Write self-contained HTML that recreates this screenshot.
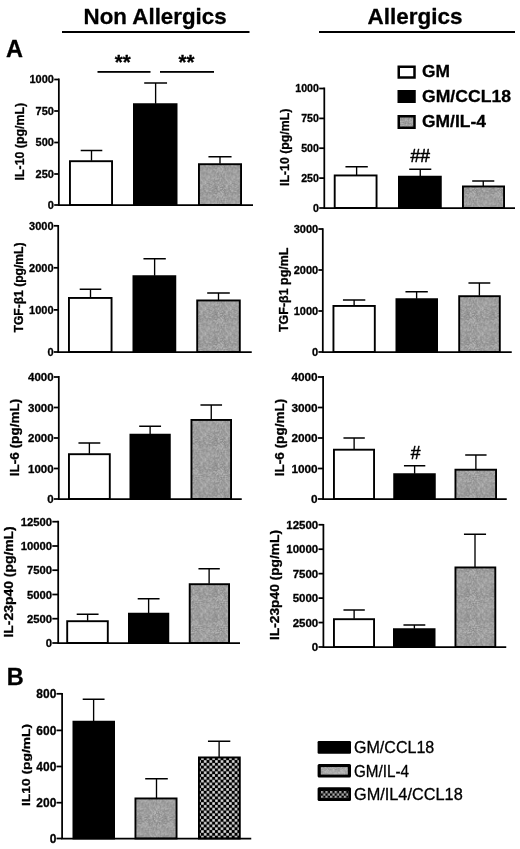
<!DOCTYPE html>
<html><head><meta charset="utf-8"><title>Figure</title>
<style>
html,body{margin:0;padding:0;background:#fff;}
body{width:520px;height:849px;overflow:hidden;font-family:"Liberation Sans",sans-serif;}
svg{display:block;filter:blur(0.35px);}
svg text{font-family:"Liberation Sans",sans-serif;fill:#000;stroke:#000;stroke-width:0.3px;stroke-linejoin:round;}
</style></head><body>
<svg width="520" height="849" viewBox="0 0 520 849">
<defs>
<pattern id="gr" width="25.2" height="25.2" patternUnits="userSpaceOnUse"><rect width="25.2" height="25.2" fill="#9c9c9c"/><rect x="0.0" y="0.0" width="0.7" height="0.7" fill="#7a7a7a"/><rect x="0.7" y="0.0" width="0.7" height="0.7" fill="#c8c8c8"/><rect x="2.1" y="0.0" width="0.7" height="0.7" fill="#c8c8c8"/><rect x="4.2" y="0.0" width="0.7" height="0.7" fill="#c8c8c8"/><rect x="5.6" y="0.0" width="0.7" height="0.7" fill="#c8c8c8"/><rect x="7.0" y="0.0" width="0.7" height="0.7" fill="#c8c8c8"/><rect x="7.7" y="0.0" width="0.7" height="0.7" fill="#c8c8c8"/><rect x="9.8" y="0.0" width="0.7" height="0.7" fill="#c8c8c8"/><rect x="10.5" y="0.0" width="0.7" height="0.7" fill="#7a7a7a"/><rect x="14.7" y="0.0" width="0.7" height="0.7" fill="#c8c8c8"/><rect x="16.1" y="0.0" width="0.7" height="0.7" fill="#7a7a7a"/><rect x="16.8" y="0.0" width="0.7" height="0.7" fill="#c8c8c8"/><rect x="17.5" y="0.0" width="0.7" height="0.7" fill="#c8c8c8"/><rect x="18.2" y="0.0" width="0.7" height="0.7" fill="#7a7a7a"/><rect x="19.6" y="0.0" width="0.7" height="0.7" fill="#7a7a7a"/><rect x="23.1" y="0.0" width="0.7" height="0.7" fill="#c8c8c8"/><rect x="23.8" y="0.0" width="0.7" height="0.7" fill="#c8c8c8"/><rect x="24.5" y="0.0" width="0.7" height="0.7" fill="#7a7a7a"/><rect x="1.4" y="0.7" width="0.7" height="0.7" fill="#7a7a7a"/><rect x="3.5" y="0.7" width="0.7" height="0.7" fill="#7a7a7a"/><rect x="5.6" y="0.7" width="0.7" height="0.7" fill="#7a7a7a"/><rect x="9.1" y="0.7" width="0.7" height="0.7" fill="#7a7a7a"/><rect x="10.5" y="0.7" width="0.7" height="0.7" fill="#c8c8c8"/><rect x="12.6" y="0.7" width="0.7" height="0.7" fill="#c8c8c8"/><rect x="14.0" y="0.7" width="0.7" height="0.7" fill="#c8c8c8"/><rect x="17.5" y="0.7" width="0.7" height="0.7" fill="#7a7a7a"/><rect x="23.8" y="0.7" width="0.7" height="0.7" fill="#c8c8c8"/><rect x="2.1" y="1.4" width="0.7" height="0.7" fill="#7a7a7a"/><rect x="4.2" y="1.4" width="0.7" height="0.7" fill="#c8c8c8"/><rect x="5.6" y="1.4" width="0.7" height="0.7" fill="#c8c8c8"/><rect x="6.3" y="1.4" width="0.7" height="0.7" fill="#c8c8c8"/><rect x="7.0" y="1.4" width="0.7" height="0.7" fill="#c8c8c8"/><rect x="8.4" y="1.4" width="0.7" height="0.7" fill="#c8c8c8"/><rect x="9.1" y="1.4" width="0.7" height="0.7" fill="#7a7a7a"/><rect x="11.2" y="1.4" width="0.7" height="0.7" fill="#c8c8c8"/><rect x="15.4" y="1.4" width="0.7" height="0.7" fill="#7a7a7a"/><rect x="18.9" y="1.4" width="0.7" height="0.7" fill="#c8c8c8"/><rect x="19.6" y="1.4" width="0.7" height="0.7" fill="#c8c8c8"/><rect x="20.3" y="1.4" width="0.7" height="0.7" fill="#7a7a7a"/><rect x="21.0" y="1.4" width="0.7" height="0.7" fill="#7a7a7a"/><rect x="23.1" y="1.4" width="0.7" height="0.7" fill="#7a7a7a"/><rect x="23.8" y="1.4" width="0.7" height="0.7" fill="#c8c8c8"/><rect x="4.9" y="2.1" width="0.7" height="0.7" fill="#c8c8c8"/><rect x="9.8" y="2.1" width="0.7" height="0.7" fill="#c8c8c8"/><rect x="11.2" y="2.1" width="0.7" height="0.7" fill="#c8c8c8"/><rect x="11.9" y="2.1" width="0.7" height="0.7" fill="#c8c8c8"/><rect x="12.6" y="2.1" width="0.7" height="0.7" fill="#7a7a7a"/><rect x="13.3" y="2.1" width="0.7" height="0.7" fill="#c8c8c8"/><rect x="14.7" y="2.1" width="0.7" height="0.7" fill="#c8c8c8"/><rect x="15.4" y="2.1" width="0.7" height="0.7" fill="#c8c8c8"/><rect x="16.1" y="2.1" width="0.7" height="0.7" fill="#c8c8c8"/><rect x="16.8" y="2.1" width="0.7" height="0.7" fill="#c8c8c8"/><rect x="18.2" y="2.1" width="0.7" height="0.7" fill="#c8c8c8"/><rect x="20.3" y="2.1" width="0.7" height="0.7" fill="#c8c8c8"/><rect x="21.0" y="2.1" width="0.7" height="0.7" fill="#7a7a7a"/><rect x="23.1" y="2.1" width="0.7" height="0.7" fill="#c8c8c8"/><rect x="1.4" y="2.8" width="0.7" height="0.7" fill="#c8c8c8"/><rect x="2.1" y="2.8" width="0.7" height="0.7" fill="#c8c8c8"/><rect x="3.5" y="2.8" width="0.7" height="0.7" fill="#7a7a7a"/><rect x="4.9" y="2.8" width="0.7" height="0.7" fill="#c8c8c8"/><rect x="5.6" y="2.8" width="0.7" height="0.7" fill="#c8c8c8"/><rect x="7.7" y="2.8" width="0.7" height="0.7" fill="#c8c8c8"/><rect x="9.1" y="2.8" width="0.7" height="0.7" fill="#c8c8c8"/><rect x="12.6" y="2.8" width="0.7" height="0.7" fill="#7a7a7a"/><rect x="14.0" y="2.8" width="0.7" height="0.7" fill="#c8c8c8"/><rect x="16.8" y="2.8" width="0.7" height="0.7" fill="#7a7a7a"/><rect x="17.5" y="2.8" width="0.7" height="0.7" fill="#7a7a7a"/><rect x="22.4" y="2.8" width="0.7" height="0.7" fill="#7a7a7a"/><rect x="24.5" y="2.8" width="0.7" height="0.7" fill="#c8c8c8"/><rect x="0.0" y="3.5" width="0.7" height="0.7" fill="#c8c8c8"/><rect x="0.7" y="3.5" width="0.7" height="0.7" fill="#7a7a7a"/><rect x="1.4" y="3.5" width="0.7" height="0.7" fill="#7a7a7a"/><rect x="7.0" y="3.5" width="0.7" height="0.7" fill="#7a7a7a"/><rect x="7.7" y="3.5" width="0.7" height="0.7" fill="#7a7a7a"/><rect x="8.4" y="3.5" width="0.7" height="0.7" fill="#7a7a7a"/><rect x="9.1" y="3.5" width="0.7" height="0.7" fill="#7a7a7a"/><rect x="14.0" y="3.5" width="0.7" height="0.7" fill="#c8c8c8"/><rect x="18.2" y="3.5" width="0.7" height="0.7" fill="#c8c8c8"/><rect x="19.6" y="3.5" width="0.7" height="0.7" fill="#7a7a7a"/><rect x="24.5" y="3.5" width="0.7" height="0.7" fill="#c8c8c8"/><rect x="0.0" y="4.2" width="0.7" height="0.7" fill="#c8c8c8"/><rect x="0.7" y="4.2" width="0.7" height="0.7" fill="#c8c8c8"/><rect x="2.8" y="4.2" width="0.7" height="0.7" fill="#c8c8c8"/><rect x="7.0" y="4.2" width="0.7" height="0.7" fill="#c8c8c8"/><rect x="7.7" y="4.2" width="0.7" height="0.7" fill="#c8c8c8"/><rect x="13.3" y="4.2" width="0.7" height="0.7" fill="#7a7a7a"/><rect x="14.0" y="4.2" width="0.7" height="0.7" fill="#7a7a7a"/><rect x="14.7" y="4.2" width="0.7" height="0.7" fill="#7a7a7a"/><rect x="15.4" y="4.2" width="0.7" height="0.7" fill="#7a7a7a"/><rect x="16.8" y="4.2" width="0.7" height="0.7" fill="#7a7a7a"/><rect x="18.2" y="4.2" width="0.7" height="0.7" fill="#c8c8c8"/><rect x="0.7" y="4.9" width="0.7" height="0.7" fill="#c8c8c8"/><rect x="2.1" y="4.9" width="0.7" height="0.7" fill="#7a7a7a"/><rect x="2.8" y="4.9" width="0.7" height="0.7" fill="#c8c8c8"/><rect x="4.2" y="4.9" width="0.7" height="0.7" fill="#c8c8c8"/><rect x="7.0" y="4.9" width="0.7" height="0.7" fill="#7a7a7a"/><rect x="9.8" y="4.9" width="0.7" height="0.7" fill="#c8c8c8"/><rect x="11.2" y="4.9" width="0.7" height="0.7" fill="#7a7a7a"/><rect x="11.9" y="4.9" width="0.7" height="0.7" fill="#7a7a7a"/><rect x="24.5" y="4.9" width="0.7" height="0.7" fill="#7a7a7a"/><rect x="2.1" y="5.6" width="0.7" height="0.7" fill="#c8c8c8"/><rect x="2.8" y="5.6" width="0.7" height="0.7" fill="#c8c8c8"/><rect x="4.2" y="5.6" width="0.7" height="0.7" fill="#c8c8c8"/><rect x="4.9" y="5.6" width="0.7" height="0.7" fill="#7a7a7a"/><rect x="5.6" y="5.6" width="0.7" height="0.7" fill="#c8c8c8"/><rect x="8.4" y="5.6" width="0.7" height="0.7" fill="#c8c8c8"/><rect x="10.5" y="5.6" width="0.7" height="0.7" fill="#c8c8c8"/><rect x="12.6" y="5.6" width="0.7" height="0.7" fill="#7a7a7a"/><rect x="16.8" y="5.6" width="0.7" height="0.7" fill="#c8c8c8"/><rect x="18.9" y="5.6" width="0.7" height="0.7" fill="#7a7a7a"/><rect x="19.6" y="5.6" width="0.7" height="0.7" fill="#7a7a7a"/><rect x="20.3" y="5.6" width="0.7" height="0.7" fill="#7a7a7a"/><rect x="21.7" y="5.6" width="0.7" height="0.7" fill="#c8c8c8"/><rect x="23.8" y="5.6" width="0.7" height="0.7" fill="#c8c8c8"/><rect x="24.5" y="5.6" width="0.7" height="0.7" fill="#7a7a7a"/><rect x="1.4" y="6.3" width="0.7" height="0.7" fill="#c8c8c8"/><rect x="4.2" y="6.3" width="0.7" height="0.7" fill="#c8c8c8"/><rect x="4.9" y="6.3" width="0.7" height="0.7" fill="#7a7a7a"/><rect x="5.6" y="6.3" width="0.7" height="0.7" fill="#c8c8c8"/><rect x="7.0" y="6.3" width="0.7" height="0.7" fill="#7a7a7a"/><rect x="7.7" y="6.3" width="0.7" height="0.7" fill="#c8c8c8"/><rect x="10.5" y="6.3" width="0.7" height="0.7" fill="#7a7a7a"/><rect x="11.2" y="6.3" width="0.7" height="0.7" fill="#c8c8c8"/><rect x="14.0" y="6.3" width="0.7" height="0.7" fill="#c8c8c8"/><rect x="14.7" y="6.3" width="0.7" height="0.7" fill="#c8c8c8"/><rect x="16.8" y="6.3" width="0.7" height="0.7" fill="#c8c8c8"/><rect x="19.6" y="6.3" width="0.7" height="0.7" fill="#c8c8c8"/><rect x="21.0" y="6.3" width="0.7" height="0.7" fill="#c8c8c8"/><rect x="23.1" y="6.3" width="0.7" height="0.7" fill="#7a7a7a"/><rect x="0.0" y="7.0" width="0.7" height="0.7" fill="#7a7a7a"/><rect x="0.7" y="7.0" width="0.7" height="0.7" fill="#c8c8c8"/><rect x="2.1" y="7.0" width="0.7" height="0.7" fill="#7a7a7a"/><rect x="2.8" y="7.0" width="0.7" height="0.7" fill="#c8c8c8"/><rect x="3.5" y="7.0" width="0.7" height="0.7" fill="#c8c8c8"/><rect x="4.2" y="7.0" width="0.7" height="0.7" fill="#c8c8c8"/><rect x="4.9" y="7.0" width="0.7" height="0.7" fill="#7a7a7a"/><rect x="5.6" y="7.0" width="0.7" height="0.7" fill="#7a7a7a"/><rect x="6.3" y="7.0" width="0.7" height="0.7" fill="#7a7a7a"/><rect x="7.7" y="7.0" width="0.7" height="0.7" fill="#7a7a7a"/><rect x="9.1" y="7.0" width="0.7" height="0.7" fill="#c8c8c8"/><rect x="10.5" y="7.0" width="0.7" height="0.7" fill="#c8c8c8"/><rect x="11.2" y="7.0" width="0.7" height="0.7" fill="#7a7a7a"/><rect x="11.9" y="7.0" width="0.7" height="0.7" fill="#c8c8c8"/><rect x="14.0" y="7.0" width="0.7" height="0.7" fill="#7a7a7a"/><rect x="16.1" y="7.0" width="0.7" height="0.7" fill="#c8c8c8"/><rect x="1.4" y="7.7" width="0.7" height="0.7" fill="#c8c8c8"/><rect x="2.1" y="7.7" width="0.7" height="0.7" fill="#c8c8c8"/><rect x="2.8" y="7.7" width="0.7" height="0.7" fill="#c8c8c8"/><rect x="4.2" y="7.7" width="0.7" height="0.7" fill="#7a7a7a"/><rect x="4.9" y="7.7" width="0.7" height="0.7" fill="#c8c8c8"/><rect x="5.6" y="7.7" width="0.7" height="0.7" fill="#c8c8c8"/><rect x="8.4" y="7.7" width="0.7" height="0.7" fill="#7a7a7a"/><rect x="9.1" y="7.7" width="0.7" height="0.7" fill="#7a7a7a"/><rect x="9.8" y="7.7" width="0.7" height="0.7" fill="#7a7a7a"/><rect x="11.2" y="7.7" width="0.7" height="0.7" fill="#c8c8c8"/><rect x="12.6" y="7.7" width="0.7" height="0.7" fill="#7a7a7a"/><rect x="15.4" y="7.7" width="0.7" height="0.7" fill="#7a7a7a"/><rect x="16.8" y="7.7" width="0.7" height="0.7" fill="#7a7a7a"/><rect x="18.2" y="7.7" width="0.7" height="0.7" fill="#c8c8c8"/><rect x="21.0" y="7.7" width="0.7" height="0.7" fill="#7a7a7a"/><rect x="22.4" y="7.7" width="0.7" height="0.7" fill="#c8c8c8"/><rect x="23.1" y="7.7" width="0.7" height="0.7" fill="#7a7a7a"/><rect x="23.8" y="7.7" width="0.7" height="0.7" fill="#c8c8c8"/><rect x="0.0" y="8.4" width="0.7" height="0.7" fill="#c8c8c8"/><rect x="0.7" y="8.4" width="0.7" height="0.7" fill="#c8c8c8"/><rect x="1.4" y="8.4" width="0.7" height="0.7" fill="#7a7a7a"/><rect x="2.1" y="8.4" width="0.7" height="0.7" fill="#7a7a7a"/><rect x="7.7" y="8.4" width="0.7" height="0.7" fill="#7a7a7a"/><rect x="9.1" y="8.4" width="0.7" height="0.7" fill="#c8c8c8"/><rect x="11.2" y="8.4" width="0.7" height="0.7" fill="#c8c8c8"/><rect x="15.4" y="8.4" width="0.7" height="0.7" fill="#c8c8c8"/><rect x="22.4" y="8.4" width="0.7" height="0.7" fill="#7a7a7a"/><rect x="23.1" y="8.4" width="0.7" height="0.7" fill="#c8c8c8"/><rect x="23.8" y="8.4" width="0.7" height="0.7" fill="#c8c8c8"/><rect x="0.0" y="9.1" width="0.7" height="0.7" fill="#c8c8c8"/><rect x="4.9" y="9.1" width="0.7" height="0.7" fill="#c8c8c8"/><rect x="9.1" y="9.1" width="0.7" height="0.7" fill="#c8c8c8"/><rect x="10.5" y="9.1" width="0.7" height="0.7" fill="#7a7a7a"/><rect x="11.2" y="9.1" width="0.7" height="0.7" fill="#c8c8c8"/><rect x="11.9" y="9.1" width="0.7" height="0.7" fill="#7a7a7a"/><rect x="13.3" y="9.1" width="0.7" height="0.7" fill="#7a7a7a"/><rect x="20.3" y="9.1" width="0.7" height="0.7" fill="#c8c8c8"/><rect x="21.0" y="9.1" width="0.7" height="0.7" fill="#c8c8c8"/><rect x="21.7" y="9.1" width="0.7" height="0.7" fill="#7a7a7a"/><rect x="23.1" y="9.1" width="0.7" height="0.7" fill="#7a7a7a"/><rect x="24.5" y="9.1" width="0.7" height="0.7" fill="#c8c8c8"/><rect x="0.0" y="9.8" width="0.7" height="0.7" fill="#c8c8c8"/><rect x="0.7" y="9.8" width="0.7" height="0.7" fill="#7a7a7a"/><rect x="3.5" y="9.8" width="0.7" height="0.7" fill="#7a7a7a"/><rect x="6.3" y="9.8" width="0.7" height="0.7" fill="#c8c8c8"/><rect x="7.7" y="9.8" width="0.7" height="0.7" fill="#7a7a7a"/><rect x="9.8" y="9.8" width="0.7" height="0.7" fill="#c8c8c8"/><rect x="13.3" y="9.8" width="0.7" height="0.7" fill="#7a7a7a"/><rect x="14.0" y="9.8" width="0.7" height="0.7" fill="#7a7a7a"/><rect x="15.4" y="9.8" width="0.7" height="0.7" fill="#7a7a7a"/><rect x="16.8" y="9.8" width="0.7" height="0.7" fill="#c8c8c8"/><rect x="18.9" y="9.8" width="0.7" height="0.7" fill="#c8c8c8"/><rect x="22.4" y="9.8" width="0.7" height="0.7" fill="#7a7a7a"/><rect x="24.5" y="9.8" width="0.7" height="0.7" fill="#c8c8c8"/><rect x="0.0" y="10.5" width="0.7" height="0.7" fill="#c8c8c8"/><rect x="2.1" y="10.5" width="0.7" height="0.7" fill="#7a7a7a"/><rect x="2.8" y="10.5" width="0.7" height="0.7" fill="#c8c8c8"/><rect x="4.2" y="10.5" width="0.7" height="0.7" fill="#7a7a7a"/><rect x="5.6" y="10.5" width="0.7" height="0.7" fill="#c8c8c8"/><rect x="7.7" y="10.5" width="0.7" height="0.7" fill="#c8c8c8"/><rect x="10.5" y="10.5" width="0.7" height="0.7" fill="#7a7a7a"/><rect x="15.4" y="10.5" width="0.7" height="0.7" fill="#7a7a7a"/><rect x="16.1" y="10.5" width="0.7" height="0.7" fill="#c8c8c8"/><rect x="16.8" y="10.5" width="0.7" height="0.7" fill="#c8c8c8"/><rect x="18.2" y="10.5" width="0.7" height="0.7" fill="#7a7a7a"/><rect x="19.6" y="10.5" width="0.7" height="0.7" fill="#7a7a7a"/><rect x="20.3" y="10.5" width="0.7" height="0.7" fill="#7a7a7a"/><rect x="21.7" y="10.5" width="0.7" height="0.7" fill="#7a7a7a"/><rect x="3.5" y="11.2" width="0.7" height="0.7" fill="#c8c8c8"/><rect x="7.0" y="11.2" width="0.7" height="0.7" fill="#7a7a7a"/><rect x="7.7" y="11.2" width="0.7" height="0.7" fill="#c8c8c8"/><rect x="9.1" y="11.2" width="0.7" height="0.7" fill="#c8c8c8"/><rect x="11.2" y="11.2" width="0.7" height="0.7" fill="#7a7a7a"/><rect x="13.3" y="11.2" width="0.7" height="0.7" fill="#7a7a7a"/><rect x="14.7" y="11.2" width="0.7" height="0.7" fill="#7a7a7a"/><rect x="16.8" y="11.2" width="0.7" height="0.7" fill="#c8c8c8"/><rect x="17.5" y="11.2" width="0.7" height="0.7" fill="#c8c8c8"/><rect x="18.2" y="11.2" width="0.7" height="0.7" fill="#7a7a7a"/><rect x="20.3" y="11.2" width="0.7" height="0.7" fill="#7a7a7a"/><rect x="23.1" y="11.2" width="0.7" height="0.7" fill="#c8c8c8"/><rect x="23.8" y="11.2" width="0.7" height="0.7" fill="#7a7a7a"/><rect x="24.5" y="11.2" width="0.7" height="0.7" fill="#c8c8c8"/><rect x="0.7" y="11.9" width="0.7" height="0.7" fill="#c8c8c8"/><rect x="1.4" y="11.9" width="0.7" height="0.7" fill="#7a7a7a"/><rect x="2.1" y="11.9" width="0.7" height="0.7" fill="#7a7a7a"/><rect x="7.7" y="11.9" width="0.7" height="0.7" fill="#7a7a7a"/><rect x="8.4" y="11.9" width="0.7" height="0.7" fill="#c8c8c8"/><rect x="9.1" y="11.9" width="0.7" height="0.7" fill="#7a7a7a"/><rect x="10.5" y="11.9" width="0.7" height="0.7" fill="#c8c8c8"/><rect x="13.3" y="11.9" width="0.7" height="0.7" fill="#7a7a7a"/><rect x="14.0" y="11.9" width="0.7" height="0.7" fill="#7a7a7a"/><rect x="14.7" y="11.9" width="0.7" height="0.7" fill="#7a7a7a"/><rect x="18.9" y="11.9" width="0.7" height="0.7" fill="#c8c8c8"/><rect x="19.6" y="11.9" width="0.7" height="0.7" fill="#c8c8c8"/><rect x="23.1" y="11.9" width="0.7" height="0.7" fill="#c8c8c8"/><rect x="2.1" y="12.6" width="0.7" height="0.7" fill="#7a7a7a"/><rect x="2.8" y="12.6" width="0.7" height="0.7" fill="#c8c8c8"/><rect x="3.5" y="12.6" width="0.7" height="0.7" fill="#c8c8c8"/><rect x="9.8" y="12.6" width="0.7" height="0.7" fill="#c8c8c8"/><rect x="11.2" y="12.6" width="0.7" height="0.7" fill="#7a7a7a"/><rect x="13.3" y="12.6" width="0.7" height="0.7" fill="#7a7a7a"/><rect x="14.0" y="12.6" width="0.7" height="0.7" fill="#c8c8c8"/><rect x="14.7" y="12.6" width="0.7" height="0.7" fill="#7a7a7a"/><rect x="16.8" y="12.6" width="0.7" height="0.7" fill="#c8c8c8"/><rect x="17.5" y="12.6" width="0.7" height="0.7" fill="#c8c8c8"/><rect x="20.3" y="12.6" width="0.7" height="0.7" fill="#7a7a7a"/><rect x="21.7" y="12.6" width="0.7" height="0.7" fill="#c8c8c8"/><rect x="22.4" y="12.6" width="0.7" height="0.7" fill="#7a7a7a"/><rect x="1.4" y="13.3" width="0.7" height="0.7" fill="#7a7a7a"/><rect x="2.1" y="13.3" width="0.7" height="0.7" fill="#7a7a7a"/><rect x="4.2" y="13.3" width="0.7" height="0.7" fill="#7a7a7a"/><rect x="4.9" y="13.3" width="0.7" height="0.7" fill="#c8c8c8"/><rect x="7.7" y="13.3" width="0.7" height="0.7" fill="#7a7a7a"/><rect x="9.8" y="13.3" width="0.7" height="0.7" fill="#7a7a7a"/><rect x="10.5" y="13.3" width="0.7" height="0.7" fill="#c8c8c8"/><rect x="11.2" y="13.3" width="0.7" height="0.7" fill="#7a7a7a"/><rect x="13.3" y="13.3" width="0.7" height="0.7" fill="#7a7a7a"/><rect x="16.1" y="13.3" width="0.7" height="0.7" fill="#7a7a7a"/><rect x="17.5" y="13.3" width="0.7" height="0.7" fill="#7a7a7a"/><rect x="18.9" y="13.3" width="0.7" height="0.7" fill="#7a7a7a"/><rect x="19.6" y="13.3" width="0.7" height="0.7" fill="#7a7a7a"/><rect x="21.0" y="13.3" width="0.7" height="0.7" fill="#7a7a7a"/><rect x="23.1" y="13.3" width="0.7" height="0.7" fill="#7a7a7a"/><rect x="23.8" y="13.3" width="0.7" height="0.7" fill="#7a7a7a"/><rect x="1.4" y="14.0" width="0.7" height="0.7" fill="#c8c8c8"/><rect x="2.8" y="14.0" width="0.7" height="0.7" fill="#7a7a7a"/><rect x="4.2" y="14.0" width="0.7" height="0.7" fill="#c8c8c8"/><rect x="4.9" y="14.0" width="0.7" height="0.7" fill="#c8c8c8"/><rect x="5.6" y="14.0" width="0.7" height="0.7" fill="#c8c8c8"/><rect x="10.5" y="14.0" width="0.7" height="0.7" fill="#7a7a7a"/><rect x="11.2" y="14.0" width="0.7" height="0.7" fill="#7a7a7a"/><rect x="13.3" y="14.0" width="0.7" height="0.7" fill="#c8c8c8"/><rect x="16.1" y="14.0" width="0.7" height="0.7" fill="#7a7a7a"/><rect x="16.8" y="14.0" width="0.7" height="0.7" fill="#c8c8c8"/><rect x="17.5" y="14.0" width="0.7" height="0.7" fill="#c8c8c8"/><rect x="18.2" y="14.0" width="0.7" height="0.7" fill="#7a7a7a"/><rect x="20.3" y="14.0" width="0.7" height="0.7" fill="#c8c8c8"/><rect x="21.7" y="14.0" width="0.7" height="0.7" fill="#7a7a7a"/><rect x="0.0" y="14.7" width="0.7" height="0.7" fill="#c8c8c8"/><rect x="2.8" y="14.7" width="0.7" height="0.7" fill="#7a7a7a"/><rect x="4.9" y="14.7" width="0.7" height="0.7" fill="#c8c8c8"/><rect x="7.7" y="14.7" width="0.7" height="0.7" fill="#c8c8c8"/><rect x="8.4" y="14.7" width="0.7" height="0.7" fill="#c8c8c8"/><rect x="9.1" y="14.7" width="0.7" height="0.7" fill="#c8c8c8"/><rect x="10.5" y="14.7" width="0.7" height="0.7" fill="#7a7a7a"/><rect x="12.6" y="14.7" width="0.7" height="0.7" fill="#7a7a7a"/><rect x="13.3" y="14.7" width="0.7" height="0.7" fill="#7a7a7a"/><rect x="15.4" y="14.7" width="0.7" height="0.7" fill="#7a7a7a"/><rect x="16.8" y="14.7" width="0.7" height="0.7" fill="#7a7a7a"/><rect x="17.5" y="14.7" width="0.7" height="0.7" fill="#7a7a7a"/><rect x="18.2" y="14.7" width="0.7" height="0.7" fill="#c8c8c8"/><rect x="21.7" y="14.7" width="0.7" height="0.7" fill="#c8c8c8"/><rect x="22.4" y="14.7" width="0.7" height="0.7" fill="#7a7a7a"/><rect x="0.7" y="15.4" width="0.7" height="0.7" fill="#7a7a7a"/><rect x="3.5" y="15.4" width="0.7" height="0.7" fill="#7a7a7a"/><rect x="7.7" y="15.4" width="0.7" height="0.7" fill="#7a7a7a"/><rect x="8.4" y="15.4" width="0.7" height="0.7" fill="#7a7a7a"/><rect x="10.5" y="15.4" width="0.7" height="0.7" fill="#c8c8c8"/><rect x="11.2" y="15.4" width="0.7" height="0.7" fill="#7a7a7a"/><rect x="12.6" y="15.4" width="0.7" height="0.7" fill="#7a7a7a"/><rect x="13.3" y="15.4" width="0.7" height="0.7" fill="#c8c8c8"/><rect x="14.0" y="15.4" width="0.7" height="0.7" fill="#c8c8c8"/><rect x="15.4" y="15.4" width="0.7" height="0.7" fill="#7a7a7a"/><rect x="18.2" y="15.4" width="0.7" height="0.7" fill="#7a7a7a"/><rect x="18.9" y="15.4" width="0.7" height="0.7" fill="#c8c8c8"/><rect x="19.6" y="15.4" width="0.7" height="0.7" fill="#c8c8c8"/><rect x="22.4" y="15.4" width="0.7" height="0.7" fill="#7a7a7a"/><rect x="2.1" y="16.1" width="0.7" height="0.7" fill="#c8c8c8"/><rect x="3.5" y="16.1" width="0.7" height="0.7" fill="#7a7a7a"/><rect x="6.3" y="16.1" width="0.7" height="0.7" fill="#7a7a7a"/><rect x="7.0" y="16.1" width="0.7" height="0.7" fill="#7a7a7a"/><rect x="7.7" y="16.1" width="0.7" height="0.7" fill="#7a7a7a"/><rect x="8.4" y="16.1" width="0.7" height="0.7" fill="#c8c8c8"/><rect x="10.5" y="16.1" width="0.7" height="0.7" fill="#7a7a7a"/><rect x="13.3" y="16.1" width="0.7" height="0.7" fill="#7a7a7a"/><rect x="16.1" y="16.1" width="0.7" height="0.7" fill="#c8c8c8"/><rect x="19.6" y="16.1" width="0.7" height="0.7" fill="#c8c8c8"/><rect x="20.3" y="16.1" width="0.7" height="0.7" fill="#7a7a7a"/><rect x="21.0" y="16.1" width="0.7" height="0.7" fill="#c8c8c8"/><rect x="21.7" y="16.1" width="0.7" height="0.7" fill="#7a7a7a"/><rect x="1.4" y="16.8" width="0.7" height="0.7" fill="#7a7a7a"/><rect x="3.5" y="16.8" width="0.7" height="0.7" fill="#c8c8c8"/><rect x="5.6" y="16.8" width="0.7" height="0.7" fill="#7a7a7a"/><rect x="7.0" y="16.8" width="0.7" height="0.7" fill="#c8c8c8"/><rect x="7.7" y="16.8" width="0.7" height="0.7" fill="#7a7a7a"/><rect x="8.4" y="16.8" width="0.7" height="0.7" fill="#7a7a7a"/><rect x="10.5" y="16.8" width="0.7" height="0.7" fill="#7a7a7a"/><rect x="11.2" y="16.8" width="0.7" height="0.7" fill="#c8c8c8"/><rect x="11.9" y="16.8" width="0.7" height="0.7" fill="#7a7a7a"/><rect x="13.3" y="16.8" width="0.7" height="0.7" fill="#7a7a7a"/><rect x="14.0" y="16.8" width="0.7" height="0.7" fill="#7a7a7a"/><rect x="14.7" y="16.8" width="0.7" height="0.7" fill="#7a7a7a"/><rect x="16.8" y="16.8" width="0.7" height="0.7" fill="#c8c8c8"/><rect x="17.5" y="16.8" width="0.7" height="0.7" fill="#c8c8c8"/><rect x="20.3" y="16.8" width="0.7" height="0.7" fill="#c8c8c8"/><rect x="21.0" y="16.8" width="0.7" height="0.7" fill="#c8c8c8"/><rect x="23.1" y="16.8" width="0.7" height="0.7" fill="#7a7a7a"/><rect x="23.8" y="16.8" width="0.7" height="0.7" fill="#7a7a7a"/><rect x="0.0" y="17.5" width="0.7" height="0.7" fill="#7a7a7a"/><rect x="4.9" y="17.5" width="0.7" height="0.7" fill="#7a7a7a"/><rect x="6.3" y="17.5" width="0.7" height="0.7" fill="#7a7a7a"/><rect x="7.0" y="17.5" width="0.7" height="0.7" fill="#c8c8c8"/><rect x="11.9" y="17.5" width="0.7" height="0.7" fill="#c8c8c8"/><rect x="12.6" y="17.5" width="0.7" height="0.7" fill="#c8c8c8"/><rect x="15.4" y="17.5" width="0.7" height="0.7" fill="#c8c8c8"/><rect x="18.2" y="17.5" width="0.7" height="0.7" fill="#c8c8c8"/><rect x="18.9" y="17.5" width="0.7" height="0.7" fill="#7a7a7a"/><rect x="21.0" y="17.5" width="0.7" height="0.7" fill="#c8c8c8"/><rect x="23.8" y="17.5" width="0.7" height="0.7" fill="#7a7a7a"/><rect x="24.5" y="17.5" width="0.7" height="0.7" fill="#c8c8c8"/><rect x="2.1" y="18.2" width="0.7" height="0.7" fill="#c8c8c8"/><rect x="6.3" y="18.2" width="0.7" height="0.7" fill="#c8c8c8"/><rect x="7.7" y="18.2" width="0.7" height="0.7" fill="#7a7a7a"/><rect x="10.5" y="18.2" width="0.7" height="0.7" fill="#7a7a7a"/><rect x="11.2" y="18.2" width="0.7" height="0.7" fill="#7a7a7a"/><rect x="14.0" y="18.2" width="0.7" height="0.7" fill="#c8c8c8"/><rect x="14.7" y="18.2" width="0.7" height="0.7" fill="#7a7a7a"/><rect x="16.8" y="18.2" width="0.7" height="0.7" fill="#c8c8c8"/><rect x="18.9" y="18.2" width="0.7" height="0.7" fill="#c8c8c8"/><rect x="20.3" y="18.2" width="0.7" height="0.7" fill="#c8c8c8"/><rect x="23.1" y="18.2" width="0.7" height="0.7" fill="#7a7a7a"/><rect x="2.8" y="18.9" width="0.7" height="0.7" fill="#c8c8c8"/><rect x="4.9" y="18.9" width="0.7" height="0.7" fill="#7a7a7a"/><rect x="7.7" y="18.9" width="0.7" height="0.7" fill="#c8c8c8"/><rect x="9.1" y="18.9" width="0.7" height="0.7" fill="#c8c8c8"/><rect x="9.8" y="18.9" width="0.7" height="0.7" fill="#c8c8c8"/><rect x="11.2" y="18.9" width="0.7" height="0.7" fill="#c8c8c8"/><rect x="13.3" y="18.9" width="0.7" height="0.7" fill="#c8c8c8"/><rect x="14.7" y="18.9" width="0.7" height="0.7" fill="#c8c8c8"/><rect x="17.5" y="18.9" width="0.7" height="0.7" fill="#c8c8c8"/><rect x="20.3" y="18.9" width="0.7" height="0.7" fill="#c8c8c8"/><rect x="23.8" y="18.9" width="0.7" height="0.7" fill="#7a7a7a"/><rect x="2.1" y="19.6" width="0.7" height="0.7" fill="#c8c8c8"/><rect x="4.2" y="19.6" width="0.7" height="0.7" fill="#c8c8c8"/><rect x="6.3" y="19.6" width="0.7" height="0.7" fill="#c8c8c8"/><rect x="7.7" y="19.6" width="0.7" height="0.7" fill="#7a7a7a"/><rect x="9.1" y="19.6" width="0.7" height="0.7" fill="#c8c8c8"/><rect x="11.2" y="19.6" width="0.7" height="0.7" fill="#7a7a7a"/><rect x="11.9" y="19.6" width="0.7" height="0.7" fill="#7a7a7a"/><rect x="13.3" y="19.6" width="0.7" height="0.7" fill="#7a7a7a"/><rect x="14.0" y="19.6" width="0.7" height="0.7" fill="#c8c8c8"/><rect x="14.7" y="19.6" width="0.7" height="0.7" fill="#7a7a7a"/><rect x="15.4" y="19.6" width="0.7" height="0.7" fill="#c8c8c8"/><rect x="18.2" y="19.6" width="0.7" height="0.7" fill="#c8c8c8"/><rect x="19.6" y="19.6" width="0.7" height="0.7" fill="#c8c8c8"/><rect x="0.0" y="20.3" width="0.7" height="0.7" fill="#c8c8c8"/><rect x="3.5" y="20.3" width="0.7" height="0.7" fill="#7a7a7a"/><rect x="7.7" y="20.3" width="0.7" height="0.7" fill="#c8c8c8"/><rect x="9.1" y="20.3" width="0.7" height="0.7" fill="#c8c8c8"/><rect x="10.5" y="20.3" width="0.7" height="0.7" fill="#7a7a7a"/><rect x="14.0" y="20.3" width="0.7" height="0.7" fill="#7a7a7a"/><rect x="14.7" y="20.3" width="0.7" height="0.7" fill="#c8c8c8"/><rect x="15.4" y="20.3" width="0.7" height="0.7" fill="#c8c8c8"/><rect x="16.1" y="20.3" width="0.7" height="0.7" fill="#c8c8c8"/><rect x="19.6" y="20.3" width="0.7" height="0.7" fill="#c8c8c8"/><rect x="20.3" y="20.3" width="0.7" height="0.7" fill="#7a7a7a"/><rect x="21.7" y="20.3" width="0.7" height="0.7" fill="#c8c8c8"/><rect x="22.4" y="20.3" width="0.7" height="0.7" fill="#c8c8c8"/><rect x="23.8" y="20.3" width="0.7" height="0.7" fill="#c8c8c8"/><rect x="0.0" y="21.0" width="0.7" height="0.7" fill="#7a7a7a"/><rect x="2.1" y="21.0" width="0.7" height="0.7" fill="#7a7a7a"/><rect x="4.2" y="21.0" width="0.7" height="0.7" fill="#c8c8c8"/><rect x="5.6" y="21.0" width="0.7" height="0.7" fill="#7a7a7a"/><rect x="6.3" y="21.0" width="0.7" height="0.7" fill="#c8c8c8"/><rect x="7.0" y="21.0" width="0.7" height="0.7" fill="#c8c8c8"/><rect x="10.5" y="21.0" width="0.7" height="0.7" fill="#7a7a7a"/><rect x="11.2" y="21.0" width="0.7" height="0.7" fill="#c8c8c8"/><rect x="16.8" y="21.0" width="0.7" height="0.7" fill="#7a7a7a"/><rect x="18.2" y="21.0" width="0.7" height="0.7" fill="#c8c8c8"/><rect x="20.3" y="21.0" width="0.7" height="0.7" fill="#7a7a7a"/><rect x="21.0" y="21.0" width="0.7" height="0.7" fill="#c8c8c8"/><rect x="22.4" y="21.0" width="0.7" height="0.7" fill="#c8c8c8"/><rect x="24.5" y="21.0" width="0.7" height="0.7" fill="#c8c8c8"/><rect x="0.0" y="21.7" width="0.7" height="0.7" fill="#7a7a7a"/><rect x="3.5" y="21.7" width="0.7" height="0.7" fill="#c8c8c8"/><rect x="4.2" y="21.7" width="0.7" height="0.7" fill="#7a7a7a"/><rect x="4.9" y="21.7" width="0.7" height="0.7" fill="#7a7a7a"/><rect x="5.6" y="21.7" width="0.7" height="0.7" fill="#c8c8c8"/><rect x="8.4" y="21.7" width="0.7" height="0.7" fill="#c8c8c8"/><rect x="12.6" y="21.7" width="0.7" height="0.7" fill="#7a7a7a"/><rect x="13.3" y="21.7" width="0.7" height="0.7" fill="#c8c8c8"/><rect x="14.0" y="21.7" width="0.7" height="0.7" fill="#7a7a7a"/><rect x="14.7" y="21.7" width="0.7" height="0.7" fill="#c8c8c8"/><rect x="15.4" y="21.7" width="0.7" height="0.7" fill="#7a7a7a"/><rect x="18.9" y="21.7" width="0.7" height="0.7" fill="#7a7a7a"/><rect x="22.4" y="21.7" width="0.7" height="0.7" fill="#7a7a7a"/><rect x="24.5" y="21.7" width="0.7" height="0.7" fill="#7a7a7a"/><rect x="0.7" y="22.4" width="0.7" height="0.7" fill="#c8c8c8"/><rect x="1.4" y="22.4" width="0.7" height="0.7" fill="#7a7a7a"/><rect x="2.1" y="22.4" width="0.7" height="0.7" fill="#7a7a7a"/><rect x="4.9" y="22.4" width="0.7" height="0.7" fill="#7a7a7a"/><rect x="6.3" y="22.4" width="0.7" height="0.7" fill="#7a7a7a"/><rect x="7.0" y="22.4" width="0.7" height="0.7" fill="#7a7a7a"/><rect x="16.1" y="22.4" width="0.7" height="0.7" fill="#7a7a7a"/><rect x="16.8" y="22.4" width="0.7" height="0.7" fill="#7a7a7a"/><rect x="18.2" y="22.4" width="0.7" height="0.7" fill="#c8c8c8"/><rect x="19.6" y="22.4" width="0.7" height="0.7" fill="#c8c8c8"/><rect x="20.3" y="22.4" width="0.7" height="0.7" fill="#c8c8c8"/><rect x="21.0" y="22.4" width="0.7" height="0.7" fill="#c8c8c8"/><rect x="23.1" y="22.4" width="0.7" height="0.7" fill="#c8c8c8"/><rect x="23.8" y="22.4" width="0.7" height="0.7" fill="#c8c8c8"/><rect x="24.5" y="22.4" width="0.7" height="0.7" fill="#c8c8c8"/><rect x="2.8" y="23.1" width="0.7" height="0.7" fill="#c8c8c8"/><rect x="7.0" y="23.1" width="0.7" height="0.7" fill="#c8c8c8"/><rect x="9.8" y="23.1" width="0.7" height="0.7" fill="#c8c8c8"/><rect x="10.5" y="23.1" width="0.7" height="0.7" fill="#7a7a7a"/><rect x="11.2" y="23.1" width="0.7" height="0.7" fill="#c8c8c8"/><rect x="11.9" y="23.1" width="0.7" height="0.7" fill="#c8c8c8"/><rect x="16.1" y="23.1" width="0.7" height="0.7" fill="#7a7a7a"/><rect x="16.8" y="23.1" width="0.7" height="0.7" fill="#c8c8c8"/><rect x="17.5" y="23.1" width="0.7" height="0.7" fill="#c8c8c8"/><rect x="18.9" y="23.1" width="0.7" height="0.7" fill="#7a7a7a"/><rect x="19.6" y="23.1" width="0.7" height="0.7" fill="#7a7a7a"/><rect x="21.0" y="23.1" width="0.7" height="0.7" fill="#c8c8c8"/><rect x="21.7" y="23.1" width="0.7" height="0.7" fill="#7a7a7a"/><rect x="22.4" y="23.1" width="0.7" height="0.7" fill="#7a7a7a"/><rect x="24.5" y="23.1" width="0.7" height="0.7" fill="#7a7a7a"/><rect x="2.8" y="23.8" width="0.7" height="0.7" fill="#c8c8c8"/><rect x="7.7" y="23.8" width="0.7" height="0.7" fill="#7a7a7a"/><rect x="9.1" y="23.8" width="0.7" height="0.7" fill="#c8c8c8"/><rect x="10.5" y="23.8" width="0.7" height="0.7" fill="#c8c8c8"/><rect x="11.2" y="23.8" width="0.7" height="0.7" fill="#c8c8c8"/><rect x="11.9" y="23.8" width="0.7" height="0.7" fill="#7a7a7a"/><rect x="14.0" y="23.8" width="0.7" height="0.7" fill="#c8c8c8"/><rect x="16.8" y="23.8" width="0.7" height="0.7" fill="#7a7a7a"/><rect x="19.6" y="23.8" width="0.7" height="0.7" fill="#7a7a7a"/><rect x="21.0" y="23.8" width="0.7" height="0.7" fill="#7a7a7a"/><rect x="21.7" y="23.8" width="0.7" height="0.7" fill="#7a7a7a"/><rect x="23.8" y="23.8" width="0.7" height="0.7" fill="#c8c8c8"/><rect x="0.0" y="24.5" width="0.7" height="0.7" fill="#c8c8c8"/><rect x="6.3" y="24.5" width="0.7" height="0.7" fill="#c8c8c8"/><rect x="7.7" y="24.5" width="0.7" height="0.7" fill="#c8c8c8"/><rect x="8.4" y="24.5" width="0.7" height="0.7" fill="#7a7a7a"/><rect x="9.1" y="24.5" width="0.7" height="0.7" fill="#7a7a7a"/><rect x="12.6" y="24.5" width="0.7" height="0.7" fill="#7a7a7a"/><rect x="17.5" y="24.5" width="0.7" height="0.7" fill="#7a7a7a"/><rect x="18.2" y="24.5" width="0.7" height="0.7" fill="#c8c8c8"/><rect x="21.0" y="24.5" width="0.7" height="0.7" fill="#c8c8c8"/><rect x="23.8" y="24.5" width="0.7" height="0.7" fill="#c8c8c8"/></pattern>
<pattern id="ck" width="5.6" height="5.6" patternUnits="userSpaceOnUse" x="198.2" y="757.3"><rect width="5.6" height="5.6" fill="#000"/><rect x="2.95" y="0.15" width="2.5" height="2.5" fill="#e4e4e4"/><rect x="0.15" y="2.95" width="2.5" height="2.5" fill="#e4e4e4"/></pattern>
<pattern id="gr2" width="28" height="8.4" patternUnits="userSpaceOnUse" x="320.8" y="767.1"><rect width="28" height="8.4" fill="#a8a8a8"/><rect x="0.7" y="0.0" width="0.7" height="0.7" fill="#8a8a8a"/><rect x="1.4" y="0.0" width="0.7" height="0.7" fill="#cfcfcf"/><rect x="2.1" y="0.0" width="0.7" height="0.7" fill="#8a8a8a"/><rect x="4.2" y="0.0" width="0.7" height="0.7" fill="#cfcfcf"/><rect x="4.9" y="0.0" width="0.7" height="0.7" fill="#cfcfcf"/><rect x="5.6" y="0.0" width="0.7" height="0.7" fill="#8a8a8a"/><rect x="6.3" y="0.0" width="0.7" height="0.7" fill="#8a8a8a"/><rect x="7.7" y="0.0" width="0.7" height="0.7" fill="#cfcfcf"/><rect x="8.4" y="0.0" width="0.7" height="0.7" fill="#8a8a8a"/><rect x="9.1" y="0.0" width="0.7" height="0.7" fill="#cfcfcf"/><rect x="11.2" y="0.0" width="0.7" height="0.7" fill="#cfcfcf"/><rect x="12.6" y="0.0" width="0.7" height="0.7" fill="#cfcfcf"/><rect x="16.8" y="0.0" width="0.7" height="0.7" fill="#cfcfcf"/><rect x="18.2" y="0.0" width="0.7" height="0.7" fill="#cfcfcf"/><rect x="18.9" y="0.0" width="0.7" height="0.7" fill="#8a8a8a"/><rect x="20.3" y="0.0" width="0.7" height="0.7" fill="#cfcfcf"/><rect x="25.2" y="0.0" width="0.7" height="0.7" fill="#cfcfcf"/><rect x="3.5" y="0.7" width="0.7" height="0.7" fill="#8a8a8a"/><rect x="9.8" y="0.7" width="0.7" height="0.7" fill="#8a8a8a"/><rect x="11.2" y="0.7" width="0.7" height="0.7" fill="#cfcfcf"/><rect x="14.7" y="0.7" width="0.7" height="0.7" fill="#8a8a8a"/><rect x="19.6" y="0.7" width="0.7" height="0.7" fill="#cfcfcf"/><rect x="23.8" y="0.7" width="0.7" height="0.7" fill="#cfcfcf"/><rect x="25.2" y="0.7" width="0.7" height="0.7" fill="#cfcfcf"/><rect x="0.0" y="1.4" width="0.7" height="0.7" fill="#cfcfcf"/><rect x="7.0" y="1.4" width="0.7" height="0.7" fill="#8a8a8a"/><rect x="9.8" y="1.4" width="0.7" height="0.7" fill="#cfcfcf"/><rect x="11.2" y="1.4" width="0.7" height="0.7" fill="#8a8a8a"/><rect x="11.9" y="1.4" width="0.7" height="0.7" fill="#cfcfcf"/><rect x="12.6" y="1.4" width="0.7" height="0.7" fill="#8a8a8a"/><rect x="14.0" y="1.4" width="0.7" height="0.7" fill="#cfcfcf"/><rect x="16.8" y="1.4" width="0.7" height="0.7" fill="#8a8a8a"/><rect x="17.5" y="1.4" width="0.7" height="0.7" fill="#8a8a8a"/><rect x="18.2" y="1.4" width="0.7" height="0.7" fill="#8a8a8a"/><rect x="21.0" y="1.4" width="0.7" height="0.7" fill="#8a8a8a"/><rect x="23.1" y="1.4" width="0.7" height="0.7" fill="#8a8a8a"/><rect x="23.8" y="1.4" width="0.7" height="0.7" fill="#cfcfcf"/><rect x="0.0" y="2.1" width="0.7" height="0.7" fill="#8a8a8a"/><rect x="1.4" y="2.1" width="0.7" height="0.7" fill="#8a8a8a"/><rect x="4.9" y="2.1" width="0.7" height="0.7" fill="#8a8a8a"/><rect x="6.3" y="2.1" width="0.7" height="0.7" fill="#cfcfcf"/><rect x="7.7" y="2.1" width="0.7" height="0.7" fill="#8a8a8a"/><rect x="9.1" y="2.1" width="0.7" height="0.7" fill="#8a8a8a"/><rect x="10.5" y="2.1" width="0.7" height="0.7" fill="#8a8a8a"/><rect x="11.9" y="2.1" width="0.7" height="0.7" fill="#cfcfcf"/><rect x="12.6" y="2.1" width="0.7" height="0.7" fill="#cfcfcf"/><rect x="14.0" y="2.1" width="0.7" height="0.7" fill="#8a8a8a"/><rect x="14.7" y="2.1" width="0.7" height="0.7" fill="#8a8a8a"/><rect x="15.4" y="2.1" width="0.7" height="0.7" fill="#8a8a8a"/><rect x="21.0" y="2.1" width="0.7" height="0.7" fill="#cfcfcf"/><rect x="23.8" y="2.1" width="0.7" height="0.7" fill="#cfcfcf"/><rect x="25.9" y="2.1" width="0.7" height="0.7" fill="#cfcfcf"/><rect x="26.6" y="2.1" width="0.7" height="0.7" fill="#cfcfcf"/><rect x="0.7" y="2.8" width="0.7" height="0.7" fill="#8a8a8a"/><rect x="1.4" y="2.8" width="0.7" height="0.7" fill="#cfcfcf"/><rect x="2.1" y="2.8" width="0.7" height="0.7" fill="#cfcfcf"/><rect x="2.8" y="2.8" width="0.7" height="0.7" fill="#8a8a8a"/><rect x="4.2" y="2.8" width="0.7" height="0.7" fill="#8a8a8a"/><rect x="4.9" y="2.8" width="0.7" height="0.7" fill="#cfcfcf"/><rect x="7.0" y="2.8" width="0.7" height="0.7" fill="#cfcfcf"/><rect x="12.6" y="2.8" width="0.7" height="0.7" fill="#cfcfcf"/><rect x="17.5" y="2.8" width="0.7" height="0.7" fill="#8a8a8a"/><rect x="18.2" y="2.8" width="0.7" height="0.7" fill="#8a8a8a"/><rect x="18.9" y="2.8" width="0.7" height="0.7" fill="#cfcfcf"/><rect x="20.3" y="2.8" width="0.7" height="0.7" fill="#cfcfcf"/><rect x="21.7" y="2.8" width="0.7" height="0.7" fill="#cfcfcf"/><rect x="25.2" y="2.8" width="0.7" height="0.7" fill="#cfcfcf"/><rect x="3.5" y="3.5" width="0.7" height="0.7" fill="#cfcfcf"/><rect x="5.6" y="3.5" width="0.7" height="0.7" fill="#cfcfcf"/><rect x="8.4" y="3.5" width="0.7" height="0.7" fill="#8a8a8a"/><rect x="11.9" y="3.5" width="0.7" height="0.7" fill="#cfcfcf"/><rect x="14.0" y="3.5" width="0.7" height="0.7" fill="#8a8a8a"/><rect x="18.2" y="3.5" width="0.7" height="0.7" fill="#8a8a8a"/><rect x="21.7" y="3.5" width="0.7" height="0.7" fill="#8a8a8a"/><rect x="24.5" y="3.5" width="0.7" height="0.7" fill="#8a8a8a"/><rect x="0.0" y="4.2" width="0.7" height="0.7" fill="#8a8a8a"/><rect x="0.7" y="4.2" width="0.7" height="0.7" fill="#8a8a8a"/><rect x="1.4" y="4.2" width="0.7" height="0.7" fill="#8a8a8a"/><rect x="4.2" y="4.2" width="0.7" height="0.7" fill="#cfcfcf"/><rect x="7.0" y="4.2" width="0.7" height="0.7" fill="#cfcfcf"/><rect x="7.7" y="4.2" width="0.7" height="0.7" fill="#8a8a8a"/><rect x="8.4" y="4.2" width="0.7" height="0.7" fill="#cfcfcf"/><rect x="9.1" y="4.2" width="0.7" height="0.7" fill="#cfcfcf"/><rect x="17.5" y="4.2" width="0.7" height="0.7" fill="#8a8a8a"/><rect x="20.3" y="4.2" width="0.7" height="0.7" fill="#cfcfcf"/><rect x="21.0" y="4.2" width="0.7" height="0.7" fill="#cfcfcf"/><rect x="21.7" y="4.2" width="0.7" height="0.7" fill="#cfcfcf"/><rect x="27.3" y="4.2" width="0.7" height="0.7" fill="#8a8a8a"/><rect x="0.0" y="4.9" width="0.7" height="0.7" fill="#8a8a8a"/><rect x="1.4" y="4.9" width="0.7" height="0.7" fill="#8a8a8a"/><rect x="4.2" y="4.9" width="0.7" height="0.7" fill="#cfcfcf"/><rect x="5.6" y="4.9" width="0.7" height="0.7" fill="#cfcfcf"/><rect x="6.3" y="4.9" width="0.7" height="0.7" fill="#cfcfcf"/><rect x="9.8" y="4.9" width="0.7" height="0.7" fill="#cfcfcf"/><rect x="14.7" y="4.9" width="0.7" height="0.7" fill="#cfcfcf"/><rect x="16.1" y="4.9" width="0.7" height="0.7" fill="#8a8a8a"/><rect x="16.8" y="4.9" width="0.7" height="0.7" fill="#cfcfcf"/><rect x="17.5" y="4.9" width="0.7" height="0.7" fill="#cfcfcf"/><rect x="18.2" y="4.9" width="0.7" height="0.7" fill="#cfcfcf"/><rect x="19.6" y="4.9" width="0.7" height="0.7" fill="#cfcfcf"/><rect x="21.0" y="4.9" width="0.7" height="0.7" fill="#cfcfcf"/><rect x="22.4" y="4.9" width="0.7" height="0.7" fill="#cfcfcf"/><rect x="23.1" y="4.9" width="0.7" height="0.7" fill="#cfcfcf"/><rect x="24.5" y="4.9" width="0.7" height="0.7" fill="#8a8a8a"/><rect x="25.9" y="4.9" width="0.7" height="0.7" fill="#cfcfcf"/><rect x="26.6" y="4.9" width="0.7" height="0.7" fill="#cfcfcf"/><rect x="2.1" y="5.6" width="0.7" height="0.7" fill="#cfcfcf"/><rect x="5.6" y="5.6" width="0.7" height="0.7" fill="#8a8a8a"/><rect x="7.7" y="5.6" width="0.7" height="0.7" fill="#cfcfcf"/><rect x="8.4" y="5.6" width="0.7" height="0.7" fill="#cfcfcf"/><rect x="10.5" y="5.6" width="0.7" height="0.7" fill="#cfcfcf"/><rect x="11.2" y="5.6" width="0.7" height="0.7" fill="#8a8a8a"/><rect x="12.6" y="5.6" width="0.7" height="0.7" fill="#cfcfcf"/><rect x="14.7" y="5.6" width="0.7" height="0.7" fill="#cfcfcf"/><rect x="18.2" y="5.6" width="0.7" height="0.7" fill="#cfcfcf"/><rect x="25.9" y="5.6" width="0.7" height="0.7" fill="#8a8a8a"/><rect x="26.6" y="5.6" width="0.7" height="0.7" fill="#cfcfcf"/><rect x="1.4" y="6.3" width="0.7" height="0.7" fill="#8a8a8a"/><rect x="4.9" y="6.3" width="0.7" height="0.7" fill="#8a8a8a"/><rect x="10.5" y="6.3" width="0.7" height="0.7" fill="#8a8a8a"/><rect x="11.2" y="6.3" width="0.7" height="0.7" fill="#cfcfcf"/><rect x="11.9" y="6.3" width="0.7" height="0.7" fill="#8a8a8a"/><rect x="15.4" y="6.3" width="0.7" height="0.7" fill="#cfcfcf"/><rect x="18.9" y="6.3" width="0.7" height="0.7" fill="#8a8a8a"/><rect x="22.4" y="6.3" width="0.7" height="0.7" fill="#8a8a8a"/><rect x="23.1" y="6.3" width="0.7" height="0.7" fill="#cfcfcf"/><rect x="25.2" y="6.3" width="0.7" height="0.7" fill="#8a8a8a"/><rect x="27.3" y="6.3" width="0.7" height="0.7" fill="#8a8a8a"/><rect x="2.1" y="7.0" width="0.7" height="0.7" fill="#8a8a8a"/><rect x="2.8" y="7.0" width="0.7" height="0.7" fill="#8a8a8a"/><rect x="5.6" y="7.0" width="0.7" height="0.7" fill="#cfcfcf"/><rect x="7.7" y="7.0" width="0.7" height="0.7" fill="#8a8a8a"/><rect x="12.6" y="7.0" width="0.7" height="0.7" fill="#cfcfcf"/><rect x="13.3" y="7.0" width="0.7" height="0.7" fill="#cfcfcf"/><rect x="14.0" y="7.0" width="0.7" height="0.7" fill="#cfcfcf"/><rect x="18.2" y="7.0" width="0.7" height="0.7" fill="#cfcfcf"/><rect x="18.9" y="7.0" width="0.7" height="0.7" fill="#cfcfcf"/><rect x="21.0" y="7.0" width="0.7" height="0.7" fill="#cfcfcf"/><rect x="23.1" y="7.0" width="0.7" height="0.7" fill="#cfcfcf"/><rect x="24.5" y="7.0" width="0.7" height="0.7" fill="#8a8a8a"/><rect x="25.9" y="7.0" width="0.7" height="0.7" fill="#cfcfcf"/><rect x="26.6" y="7.0" width="0.7" height="0.7" fill="#cfcfcf"/><rect x="2.1" y="7.7" width="0.7" height="0.7" fill="#8a8a8a"/><rect x="7.0" y="7.7" width="0.7" height="0.7" fill="#8a8a8a"/><rect x="7.7" y="7.7" width="0.7" height="0.7" fill="#cfcfcf"/><rect x="8.4" y="7.7" width="0.7" height="0.7" fill="#8a8a8a"/><rect x="9.1" y="7.7" width="0.7" height="0.7" fill="#cfcfcf"/><rect x="9.8" y="7.7" width="0.7" height="0.7" fill="#cfcfcf"/><rect x="10.5" y="7.7" width="0.7" height="0.7" fill="#cfcfcf"/><rect x="14.7" y="7.7" width="0.7" height="0.7" fill="#cfcfcf"/><rect x="16.8" y="7.7" width="0.7" height="0.7" fill="#cfcfcf"/><rect x="18.2" y="7.7" width="0.7" height="0.7" fill="#8a8a8a"/><rect x="23.1" y="7.7" width="0.7" height="0.7" fill="#cfcfcf"/><rect x="25.2" y="7.7" width="0.7" height="0.7" fill="#8a8a8a"/><rect x="25.9" y="7.7" width="0.7" height="0.7" fill="#cfcfcf"/><rect x="26.6" y="7.7" width="0.7" height="0.7" fill="#8a8a8a"/><rect x="27.3" y="7.7" width="0.7" height="0.7" fill="#8a8a8a"/></pattern>
<pattern id="ck2" width="4.6" height="4.8" patternUnits="userSpaceOnUse" x="320.8" y="790.9"><rect width="4.6" height="4.8" fill="#000"/><rect width="2.3" height="2.4" fill="#aaa"/><rect x="2.3" y="2.4" width="2.3" height="2.4" fill="#aaa"/></pattern>
</defs>
<rect width="520" height="849" fill="#fff"/>
<text x="83.6" y="23.6" font-size="22.4" font-weight="bold" text-anchor="start" textLength="143" lengthAdjust="spacingAndGlyphs">Non Allergics</text>
<rect x="62" y="31" width="187.5" height="2" fill="#000"/>
<text x="367.6" y="23.6" font-size="22.4" font-weight="bold" text-anchor="start" textLength="95" lengthAdjust="spacingAndGlyphs">Allergics</text>
<rect x="319" y="31" width="196" height="2" fill="#000"/>
<text x="6" y="57" font-size="23.5" font-weight="bold" text-anchor="start">A</text>
<text x="6.8" y="684.5" font-size="23.5" font-weight="bold" text-anchor="start">B</text>
<rect x="97.5" y="71" width="53" height="1.8" fill="#000"/>
<rect x="160" y="71" width="54" height="1.8" fill="#000"/>
<text x="122.8" y="69.4" font-size="20.5" font-weight="bold" text-anchor="middle">**</text>
<text x="186.4" y="69.4" font-size="20.5" font-weight="bold" text-anchor="middle">**</text>
<text x="420.3" y="162" font-size="17.5" font-weight="normal" text-anchor="middle" style="stroke-width:0.55px">##</text>
<text x="415.7" y="458.6" font-size="17.5" font-weight="normal" text-anchor="middle" style="stroke-width:0.55px">#</text>
<path d="M91.50 160.75V150.50M80.70 150.50H102.30" stroke="#000" stroke-width="1.35" fill="none"/>
<rect x="69.95" y="161.20" width="42.10" height="43.80" fill="#fff" stroke="#000" stroke-width="1.9"/>
<path d="M155.62 103.75V83.00M144.20 83.00H167.05" stroke="#000" stroke-width="1.35" fill="none"/>
<rect x="133.95" y="104.20" width="42.60" height="100.80" fill="#000" stroke="#000" stroke-width="1.9"/>
<path d="M220.00 163.75V156.75M208.45 156.75H231.55" stroke="#000" stroke-width="1.35" fill="none"/>
<rect x="198.95" y="164.20" width="42.10" height="40.80" fill="url(#gr)" stroke="#000" stroke-width="1.9"/>
<path d="M58.85 78.62V205.00M57.98 205.00H253.00" stroke="#000" stroke-width="1.75" fill="none"/>
<path d="M54.20 79.50H58.85" stroke="#000" stroke-width="1.75"/>
<text x="53.94" y="83.46" font-size="11" font-weight="bold" text-anchor="end">1000</text>
<path d="M54.20 111.00H58.85" stroke="#000" stroke-width="1.75"/>
<text x="53.94" y="114.96" font-size="11" font-weight="bold" text-anchor="end">750</text>
<path d="M54.20 142.50H58.85" stroke="#000" stroke-width="1.75"/>
<text x="53.94" y="146.46" font-size="11" font-weight="bold" text-anchor="end">500</text>
<path d="M54.20 174.00H58.85" stroke="#000" stroke-width="1.75"/>
<text x="53.94" y="177.96" font-size="11" font-weight="bold" text-anchor="end">250</text>
<path d="M54.20 205.00H58.85" stroke="#000" stroke-width="1.75"/>
<text x="53.94" y="208.96" font-size="11" font-weight="bold" text-anchor="end">0</text>
<text transform="translate(23.50,180.40) rotate(-90)" font-size="12.3" font-weight="bold" textLength="77.50" lengthAdjust="spacingAndGlyphs">IL-10 (pg/mL)</text>
<path d="M356.62 175.00V166.75M345.45 166.75H367.80" stroke="#000" stroke-width="1.35" fill="none"/>
<rect x="334.70" y="175.45" width="41.85" height="32.55" fill="#fff" stroke="#000" stroke-width="1.9"/>
<path d="M420.25 176.25V169.25M409.20 169.25H431.30" stroke="#000" stroke-width="1.35" fill="none"/>
<rect x="398.95" y="176.70" width="41.85" height="31.30" fill="#000" stroke="#000" stroke-width="1.9"/>
<path d="M483.25 186.00V181.00M472.20 181.00H494.30" stroke="#000" stroke-width="1.35" fill="none"/>
<rect x="462.95" y="186.45" width="41.10" height="21.55" fill="url(#gr)" stroke="#000" stroke-width="1.9"/>
<path d="M324.30 87.62V208.00M323.43 208.00H515.00" stroke="#000" stroke-width="1.75" fill="none"/>
<path d="M319.20 88.50H324.30" stroke="#000" stroke-width="1.75"/>
<text x="318.92" y="92.32" font-size="10.6" font-weight="bold" text-anchor="end">1000</text>
<path d="M319.20 118.40H324.30" stroke="#000" stroke-width="1.75"/>
<text x="318.92" y="122.22" font-size="10.6" font-weight="bold" text-anchor="end">750</text>
<path d="M319.20 148.20H324.30" stroke="#000" stroke-width="1.75"/>
<text x="318.92" y="152.02" font-size="10.6" font-weight="bold" text-anchor="end">500</text>
<path d="M319.20 178.10H324.30" stroke="#000" stroke-width="1.75"/>
<text x="318.92" y="181.92" font-size="10.6" font-weight="bold" text-anchor="end">250</text>
<path d="M319.20 208.00H324.30" stroke="#000" stroke-width="1.75"/>
<text x="318.92" y="211.82" font-size="10.6" font-weight="bold" text-anchor="end">0</text>
<text transform="translate(289.40,186.00) rotate(-90)" font-size="12.3" font-weight="bold" textLength="77.25" lengthAdjust="spacingAndGlyphs">IL-10 (pg/mL)</text>
<path d="M90.50 297.50V289.25M79.70 289.25H101.30" stroke="#000" stroke-width="1.35" fill="none"/>
<rect x="68.95" y="297.95" width="42.60" height="54.05" fill="#fff" stroke="#000" stroke-width="1.9"/>
<path d="M154.62 275.75V258.75M143.45 258.75H165.80" stroke="#000" stroke-width="1.35" fill="none"/>
<rect x="133.45" y="276.20" width="41.85" height="75.80" fill="#000" stroke="#000" stroke-width="1.9"/>
<path d="M218.50 300.00V293.00M207.20 293.00H229.80" stroke="#000" stroke-width="1.35" fill="none"/>
<rect x="197.20" y="300.45" width="42.60" height="51.55" fill="url(#gr)" stroke="#000" stroke-width="1.9"/>
<path d="M58.20 224.93V352.00M57.33 352.00H251.75" stroke="#000" stroke-width="1.75" fill="none"/>
<path d="M53.80 225.80H58.20" stroke="#000" stroke-width="1.75"/>
<text x="53.54" y="229.76" font-size="11" font-weight="bold" text-anchor="end">3000</text>
<path d="M53.80 267.80H58.20" stroke="#000" stroke-width="1.75"/>
<text x="53.54" y="271.76" font-size="11" font-weight="bold" text-anchor="end">2000</text>
<path d="M53.80 309.90H58.20" stroke="#000" stroke-width="1.75"/>
<text x="53.54" y="313.86" font-size="11" font-weight="bold" text-anchor="end">1000</text>
<path d="M53.80 352.00H58.20" stroke="#000" stroke-width="1.75"/>
<text x="53.54" y="355.96" font-size="11" font-weight="bold" text-anchor="end">0</text>
<text transform="translate(23.20,332.50) rotate(-90)" font-size="12.3" font-weight="bold" textLength="90.00" lengthAdjust="spacingAndGlyphs">TGF-&#946;1 (pg/mL)</text>
<path d="M354.12 305.50V300.00M342.95 300.00H365.30" stroke="#000" stroke-width="1.35" fill="none"/>
<rect x="333.45" y="305.95" width="41.35" height="46.05" fill="#fff" stroke="#000" stroke-width="1.9"/>
<path d="M416.62 298.75V291.75M405.45 291.75H427.80" stroke="#000" stroke-width="1.35" fill="none"/>
<rect x="396.45" y="299.20" width="40.60" height="52.80" fill="#000" stroke="#000" stroke-width="1.9"/>
<path d="M479.38 295.75V283.00M468.45 283.00H490.30" stroke="#000" stroke-width="1.35" fill="none"/>
<rect x="459.20" y="296.20" width="40.60" height="55.80" fill="url(#gr)" stroke="#000" stroke-width="1.9"/>
<path d="M322.80 228.32V352.00M321.93 352.00H511.75" stroke="#000" stroke-width="1.75" fill="none"/>
<path d="M318.40 229.00H322.80" stroke="#000" stroke-width="1.75"/>
<text x="318.14" y="232.96" font-size="11" font-weight="bold" text-anchor="end">3000</text>
<path d="M318.40 270.00H322.80" stroke="#000" stroke-width="1.75"/>
<text x="318.14" y="273.96" font-size="11" font-weight="bold" text-anchor="end">2000</text>
<path d="M318.40 311.00H322.80" stroke="#000" stroke-width="1.75"/>
<text x="318.14" y="314.96" font-size="11" font-weight="bold" text-anchor="end">1000</text>
<path d="M318.40 352.00H322.80" stroke="#000" stroke-width="1.75"/>
<text x="318.14" y="355.96" font-size="11" font-weight="bold" text-anchor="end">0</text>
<text transform="translate(287.70,332.00) rotate(-90)" font-size="12.3" font-weight="bold" textLength="84.50" lengthAdjust="spacingAndGlyphs">TGF-&#946;1 pg/mL</text>
<path d="M89.38 453.75V443.00M78.45 443.00H100.30" stroke="#000" stroke-width="1.35" fill="none"/>
<rect x="68.95" y="454.20" width="40.85" height="44.80" fill="#fff" stroke="#000" stroke-width="1.9"/>
<path d="M150.12 434.25V426.25M139.20 426.25H161.05" stroke="#000" stroke-width="1.35" fill="none"/>
<rect x="130.45" y="434.70" width="39.35" height="64.30" fill="#000" stroke="#000" stroke-width="1.9"/>
<path d="M211.25 419.50V405.00M200.45 405.00H222.05" stroke="#000" stroke-width="1.35" fill="none"/>
<rect x="191.45" y="419.95" width="39.60" height="79.05" fill="url(#gr)" stroke="#000" stroke-width="1.9"/>
<path d="M58.80 376.12V499.00M57.92 499.00H241.75" stroke="#000" stroke-width="1.75" fill="none"/>
<path d="M53.90 377.00H58.80" stroke="#000" stroke-width="1.75"/>
<text x="53.66" y="381.14" font-size="11.5" font-weight="bold" text-anchor="end">4000</text>
<path d="M53.90 407.50H58.80" stroke="#000" stroke-width="1.75"/>
<text x="53.66" y="411.64" font-size="11.5" font-weight="bold" text-anchor="end">3000</text>
<path d="M53.90 438.00H58.80" stroke="#000" stroke-width="1.75"/>
<text x="53.66" y="442.14" font-size="11.5" font-weight="bold" text-anchor="end">2000</text>
<path d="M53.90 468.50H58.80" stroke="#000" stroke-width="1.75"/>
<text x="53.66" y="472.64" font-size="11.5" font-weight="bold" text-anchor="end">1000</text>
<path d="M53.90 499.00H58.80" stroke="#000" stroke-width="1.75"/>
<text x="53.66" y="503.14" font-size="11.5" font-weight="bold" text-anchor="end">0</text>
<text transform="translate(19.30,476.25) rotate(-90)" font-size="12.3" font-weight="bold" textLength="77.50" lengthAdjust="spacingAndGlyphs">IL-6 (pg/mL)</text>
<path d="M354.12 449.25V438.00M343.45 438.00H364.80" stroke="#000" stroke-width="1.35" fill="none"/>
<rect x="333.95" y="449.70" width="40.10" height="49.30" fill="#fff" stroke="#000" stroke-width="1.9"/>
<path d="M414.62 473.75V465.75M403.95 465.75H425.30" stroke="#000" stroke-width="1.35" fill="none"/>
<rect x="394.20" y="474.20" width="40.60" height="24.80" fill="#000" stroke="#000" stroke-width="1.9"/>
<path d="M475.88 469.25V455.00M465.20 455.00H486.55" stroke="#000" stroke-width="1.35" fill="none"/>
<rect x="455.45" y="469.70" width="40.60" height="29.30" fill="url(#gr)" stroke="#000" stroke-width="1.9"/>
<path d="M323.10 376.12V499.00M322.23 499.00H506.75" stroke="#000" stroke-width="1.75" fill="none"/>
<path d="M317.90 377.00H323.10" stroke="#000" stroke-width="1.75"/>
<text x="317.67" y="381.25" font-size="11.8" font-weight="bold" text-anchor="end">4000</text>
<path d="M317.90 407.50H323.10" stroke="#000" stroke-width="1.75"/>
<text x="317.67" y="411.75" font-size="11.8" font-weight="bold" text-anchor="end">3000</text>
<path d="M317.90 438.00H323.10" stroke="#000" stroke-width="1.75"/>
<text x="317.67" y="442.25" font-size="11.8" font-weight="bold" text-anchor="end">2000</text>
<path d="M317.90 468.50H323.10" stroke="#000" stroke-width="1.75"/>
<text x="317.67" y="472.75" font-size="11.8" font-weight="bold" text-anchor="end">1000</text>
<path d="M317.90 499.00H323.10" stroke="#000" stroke-width="1.75"/>
<text x="317.67" y="503.25" font-size="11.8" font-weight="bold" text-anchor="end">0</text>
<text transform="translate(284.20,476.25) rotate(-90)" font-size="12.3" font-weight="bold" textLength="77.50" lengthAdjust="spacingAndGlyphs">IL-6 (pg/mL)</text>
<path d="M87.62 620.75V614.25M76.70 614.25H98.55" stroke="#000" stroke-width="1.35" fill="none"/>
<rect x="67.20" y="621.20" width="40.60" height="21.80" fill="#fff" stroke="#000" stroke-width="1.9"/>
<path d="M148.62 613.25V598.75M137.70 598.75H159.55" stroke="#000" stroke-width="1.35" fill="none"/>
<rect x="128.95" y="613.70" width="39.35" height="29.30" fill="#000" stroke="#000" stroke-width="1.9"/>
<path d="M209.12 583.75V568.75M198.45 568.75H219.80" stroke="#000" stroke-width="1.35" fill="none"/>
<rect x="189.70" y="584.20" width="39.35" height="58.80" fill="url(#gr)" stroke="#000" stroke-width="1.9"/>
<path d="M58.20 520.83V643.00M57.33 643.00H240.00" stroke="#000" stroke-width="1.75" fill="none"/>
<path d="M52.30 521.70H58.20" stroke="#000" stroke-width="1.75"/>
<text x="52.05" y="525.77" font-size="11.3" font-weight="bold" text-anchor="end">12500</text>
<path d="M52.30 546.00H58.20" stroke="#000" stroke-width="1.75"/>
<text x="52.05" y="550.07" font-size="11.3" font-weight="bold" text-anchor="end">10000</text>
<path d="M52.30 570.20H58.20" stroke="#000" stroke-width="1.75"/>
<text x="52.05" y="574.27" font-size="11.3" font-weight="bold" text-anchor="end">7500</text>
<path d="M52.30 594.50H58.20" stroke="#000" stroke-width="1.75"/>
<text x="52.05" y="598.57" font-size="11.3" font-weight="bold" text-anchor="end">5000</text>
<path d="M52.30 618.70H58.20" stroke="#000" stroke-width="1.75"/>
<text x="52.05" y="622.77" font-size="11.3" font-weight="bold" text-anchor="end">2500</text>
<path d="M52.30 643.00H58.20" stroke="#000" stroke-width="1.75"/>
<text x="52.05" y="647.07" font-size="11.3" font-weight="bold" text-anchor="end">0</text>
<text transform="translate(13.00,637.50) rotate(-90)" font-size="12.3" font-weight="bold" textLength="111.25" lengthAdjust="spacingAndGlyphs">IL-23p40 (pg/mL)</text>
<path d="M354.12 618.75V610.00M343.45 610.00H364.80" stroke="#000" stroke-width="1.35" fill="none"/>
<rect x="333.95" y="619.20" width="40.10" height="27.80" fill="#fff" stroke="#000" stroke-width="1.9"/>
<path d="M414.38 628.75V625.00M403.45 625.00H425.30" stroke="#000" stroke-width="1.35" fill="none"/>
<rect x="393.95" y="629.20" width="40.60" height="17.80" fill="#000" stroke="#000" stroke-width="1.9"/>
<path d="M475.00 567.00V534.25M463.95 534.25H486.05" stroke="#000" stroke-width="1.35" fill="none"/>
<rect x="455.45" y="567.45" width="39.85" height="79.55" fill="url(#gr)" stroke="#000" stroke-width="1.9"/>
<path d="M323.40 524.12V647.00M322.52 647.00H506.25" stroke="#000" stroke-width="1.75" fill="none"/>
<path d="M318.50 524.75H323.40" stroke="#000" stroke-width="1.75"/>
<text x="318.26" y="528.89" font-size="11.5" font-weight="bold" text-anchor="end">12500</text>
<path d="M318.50 549.20H323.40" stroke="#000" stroke-width="1.75"/>
<text x="318.26" y="553.34" font-size="11.5" font-weight="bold" text-anchor="end">10000</text>
<path d="M318.50 573.65H323.40" stroke="#000" stroke-width="1.75"/>
<text x="318.26" y="577.79" font-size="11.5" font-weight="bold" text-anchor="end">7500</text>
<path d="M318.50 598.10H323.40" stroke="#000" stroke-width="1.75"/>
<text x="318.26" y="602.24" font-size="11.5" font-weight="bold" text-anchor="end">5000</text>
<path d="M318.50 622.55H323.40" stroke="#000" stroke-width="1.75"/>
<text x="318.26" y="626.69" font-size="11.5" font-weight="bold" text-anchor="end">2500</text>
<path d="M318.50 647.00H323.40" stroke="#000" stroke-width="1.75"/>
<text x="318.26" y="651.14" font-size="11.5" font-weight="bold" text-anchor="end">0</text>
<text transform="translate(278.90,640.00) rotate(-90)" font-size="12.3" font-weight="bold" textLength="110.00" lengthAdjust="spacingAndGlyphs">IL-23p40 (pg/mL)</text>
<path d="M93.62 721.25V699.25M82.70 699.25H104.55" stroke="#000" stroke-width="1.35" fill="none"/>
<rect x="73.45" y="721.70" width="40.60" height="116.80" fill="#000" stroke="#000" stroke-width="1.9"/>
<path d="M156.50 798.00V778.75M145.20 778.75H167.80" stroke="#000" stroke-width="1.35" fill="none"/>
<rect x="135.45" y="798.45" width="41.10" height="40.05" fill="url(#gr)" stroke="#000" stroke-width="1.9"/>
<path d="M219.12 757.00V741.25M207.95 741.25H230.30" stroke="#000" stroke-width="1.35" fill="none"/>
<rect x="198.95" y="757.45" width="40.85" height="81.05" fill="url(#ck)" stroke="#000" stroke-width="1.9"/>
<path d="M62.10 692.92V838.50M61.23 838.50H251.25" stroke="#000" stroke-width="1.75" fill="none"/>
<path d="M56.50 693.80H62.10" stroke="#000" stroke-width="1.75"/>
<text x="56.32" y="698.48" font-size="13" font-weight="bold" text-anchor="end" textLength="19.95" lengthAdjust="spacingAndGlyphs">800</text>
<path d="M56.50 730.40H62.10" stroke="#000" stroke-width="1.75"/>
<text x="56.32" y="735.08" font-size="13" font-weight="bold" text-anchor="end" textLength="19.95" lengthAdjust="spacingAndGlyphs">600</text>
<path d="M56.50 766.50H62.10" stroke="#000" stroke-width="1.75"/>
<text x="56.32" y="771.18" font-size="13" font-weight="bold" text-anchor="end" textLength="19.95" lengthAdjust="spacingAndGlyphs">400</text>
<path d="M56.50 802.70H62.10" stroke="#000" stroke-width="1.75"/>
<text x="56.32" y="807.38" font-size="13" font-weight="bold" text-anchor="end" textLength="19.95" lengthAdjust="spacingAndGlyphs">200</text>
<path d="M56.50 838.50H62.10" stroke="#000" stroke-width="1.75"/>
<text x="56.32" y="843.18" font-size="13" font-weight="bold" text-anchor="end" textLength="6.65" lengthAdjust="spacingAndGlyphs">0</text>
<text transform="translate(30.05,806.00) rotate(-90)" font-size="11.6" font-weight="bold" textLength="82.10" lengthAdjust="spacingAndGlyphs">IL10 (pg/mL)</text>
<rect x="398.75" y="66.75" width="15.75" height="10.75" fill="#fff" stroke="#000" stroke-width="2.5"/>
<rect x="398.5" y="91.0" width="16.25" height="11" fill="#000" stroke="#000" stroke-width="2"/>
<rect x="398.75" y="116.25" width="15.75" height="11.5" fill="url(#gr)" stroke="#000" stroke-width="2.5"/>
<text x="422" y="77.3" font-size="16.8" font-weight="bold" text-anchor="start" textLength="28" lengthAdjust="spacingAndGlyphs">GM</text>
<text x="422" y="101.7" font-size="16.8" font-weight="bold" text-anchor="start" textLength="89" lengthAdjust="spacingAndGlyphs">GM/CCL18</text>
<text x="422" y="127.2" font-size="16.8" font-weight="bold" text-anchor="start" textLength="64" lengthAdjust="spacingAndGlyphs">GM/IL-4</text>
<rect x="317.6" y="741" width="33.4" height="12.8" rx="1.2" fill="#000"/>
<rect x="317.6" y="763.9" width="33.4" height="13.7" rx="1.5" fill="#000"/>
<rect x="320.8" y="767.1" width="27" height="7.5" fill="url(#gr2)"/>
<rect x="317.6" y="787.3" width="33.4" height="13.8" rx="1.5" fill="#000"/>
<rect x="320.8" y="790.9" width="27.6" height="7.2" fill="url(#ck2)"/>
<text x="354" y="753" font-size="16" font-weight="normal" text-anchor="start" textLength="80.3" lengthAdjust="spacingAndGlyphs">GM/CCL18</text>
<text x="354" y="776.8" font-size="16" font-weight="normal" text-anchor="start" textLength="55" lengthAdjust="spacingAndGlyphs">GM/IL-4</text>
<text x="354" y="800.3" font-size="16" font-weight="normal" text-anchor="start" textLength="108.7" lengthAdjust="spacingAndGlyphs">GM/IL4/CCL18</text>
</svg></body></html>
